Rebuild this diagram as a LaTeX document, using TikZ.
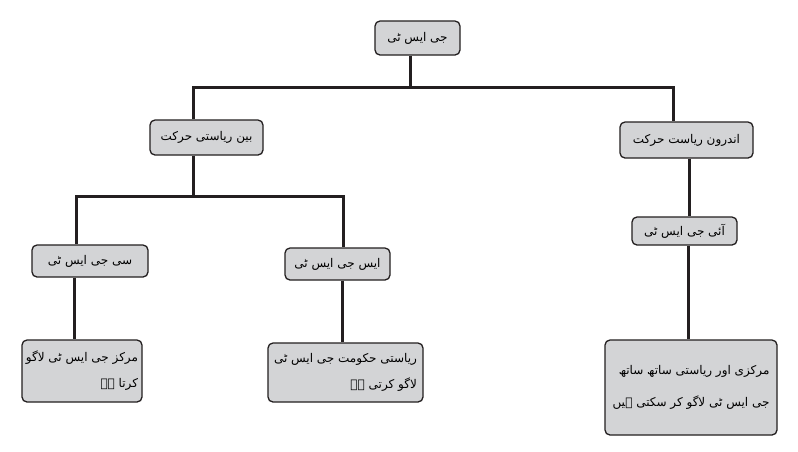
\documentclass[tikz,border=0pt]{standalone}
\usepackage{fontspec}
\newfontfamily\urdufont[Script=Arabic]{DejaVu Sans}
\TeXXeTstate=1
\newcommand\urdusize{\urdufont\fontsize{12}{26}\selectfont\lineskiplimit=-60pt\relax}
\newcommand\urdularge{\urdufont\fontsize{12}{32}\selectfont\lineskiplimit=-60pt\relax}
\definecolor{ink}{HTML}{231F20}
\definecolor{boxgrey}{HTML}{D3D4D6}
\begin{document}
\begin{tikzpicture}[x=1pt,y=-1pt,
  box/.style={draw=ink, line width=1.3pt, fill=boxgrey, rounded corners=5pt,
    inner sep=0pt, font=\urdusize},
  multi/.style={box, align=right},
  link/.style={draw=ink, line width=3pt}]
\useasboundingbox (0,0) rectangle (798,451);
\fill[white] (0,0) rectangle (798,451);

% nodes
\node[box, minimum width=85pt, minimum height=34pt] (gst) at (417.5,38) {\beginR جی ایس ٹی\endR};
\node[box, minimum width=113pt, minimum height=35pt] (bin) at (206.5,137.5) {\beginR بین ریاستی حرکت\endR};
\node[box, minimum width=133pt, minimum height=36pt] (andr) at (686.5,140) {\beginR اندرون ریاست حرکت\endR};
\node[box, minimum width=105pt, minimum height=28pt] (igst) at (684.5,231) {\beginR آئی جی ایس ٹی\endR};
\node[box, minimum width=116pt, minimum height=32pt] (cgst) at (90,261) {\beginR سی جی ایس ٹی\endR};
\node[box, minimum width=105pt, minimum height=32pt] (sgst) at (337.5,264) {\beginR ایس جی ایس ٹی\endR};
\node[multi, minimum width=120pt, minimum height=62pt] (bl) at (82,371)
  {\beginR مرکز جی ایس ٹی لاگو\endR\\\beginR کرتا ہے\endR};
\node[multi, minimum width=155pt, minimum height=59pt] (bm) at (345.5,372.5)
  {\beginR ریاستی حکومت جی ایس ٹی\endR\\\beginR لاگو کرتی ہے\endR};
\node[multi, minimum width=172pt, minimum height=95pt, font=\urdularge] (br) at (691,387.5)
  {\beginR مرکزی اور ریاستی ساتھ ساتھ\endR\\\beginR جی ایس ٹی لاگو کر سکتی ہیں\endR};

% junction coordinates
\coordinate (j1) at (410,87);
\coordinate (jL) at (193,87);
\coordinate (jR) at (673,87);
\coordinate (j2) at (193,196);
\coordinate (jC) at (76,196);
\coordinate (jS) at (343,196);
\coordinate (xc) at (74,0);
\coordinate (xs) at (342,0);
\coordinate (xi) at (689,0);
\coordinate (xr) at (688,0);

% connectors
\draw[link] (j1 |- gst.south) -- (j1);
\draw[link] (jL |- bin.north) -- (jL) -- (jR) -- (jR |- andr.north);
\draw[link] (j2 |- bin.south) -- (j2);
\draw[link] (jC |- cgst.north) -- (jC) -- (jS) -- (jS |- sgst.north);
\draw[link] (xc |- cgst.south) -- (xc |- bl.north);
\draw[link] (xs |- sgst.south) -- (xs |- bm.north);
\draw[link] (xi |- andr.south) -- (xi |- igst.north);
\draw[link] (xr |- igst.south) -- (xr |- br.north);
\end{tikzpicture}
\end{document}
